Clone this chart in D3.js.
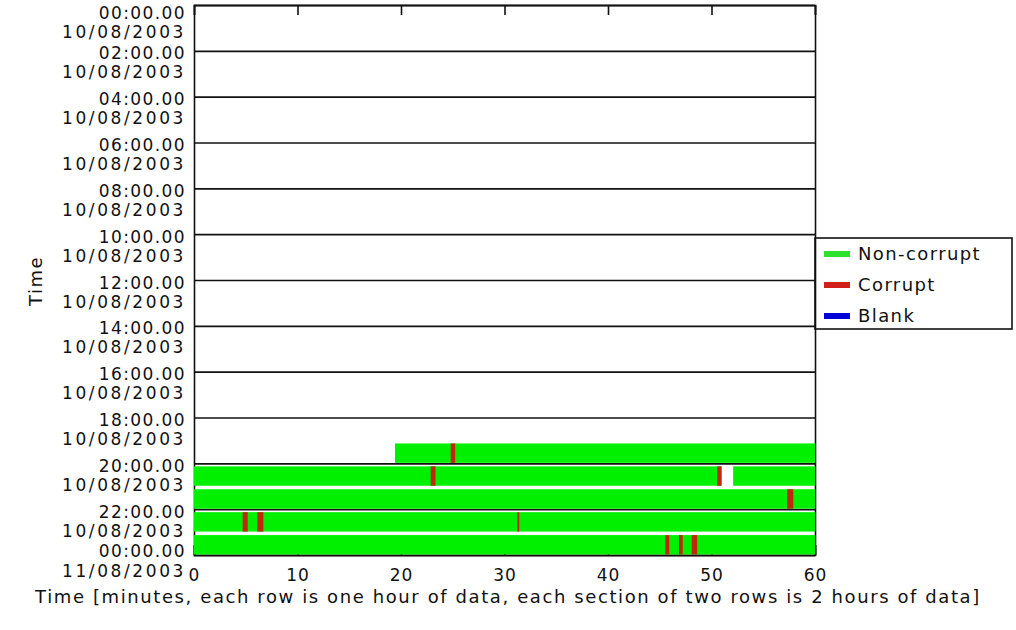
<!DOCTYPE html>
<html>
<head>
<meta charset="utf-8">
<script src="https://cdn.jsdelivr.net/npm/d3@7"></script>
<style>
  body { margin: 0; background: #fff; }
  svg { display: block; font-family: "DejaVu Sans", sans-serif; }
  .frame line, .frame path { stroke: #111; }
</style>
</head>
<body>
<svg id="chart" width="1016" height="630"></svg>
<script>
// rows are hours of the day (0 = 00:00 on 10/08/2003), spans are [hour, fromMinute, toMinute]
var okSpans = [
  [19, 19.42, 60],
  [20, 0, 50.97], [20, 52.09, 60],
  [21, 0, 60],
  [22, 0, 60],
  [23, 0, 60]
];
var corruptSpans = [
  [19, 24.8, 25.23],
  [20, 22.87, 23.33], [20, 50.56, 50.97],
  [21, 57.32, 57.9],
  [22, 4.7, 5.19], [22, 6.12, 6.7], [22, 31.24, 31.43],
  [23, 45.54, 45.92], [23, 46.86, 47.22], [23, 48.09, 48.61]
];
var blankSpans = [];

var sectionHours = [0, 2, 4, 6, 8, 10, 12, 14, 16, 18, 20, 22, 24];
var timeLabels = ['00:00.00', '02:00.00', '04:00.00', '06:00.00', '08:00.00', '10:00.00',
  '12:00.00', '14:00.00', '16:00.00', '18:00.00', '20:00.00', '22:00.00', '00:00.00'];
var dateLabels = ['10/08/2003', '10/08/2003', '10/08/2003', '10/08/2003', '10/08/2003', '10/08/2003',
  '10/08/2003', '10/08/2003', '10/08/2003', '10/08/2003', '10/08/2003', '10/08/2003', '11/08/2003'];
var minuteTicks = [0, 10, 20, 30, 40, 50, 60];

var legendItems = ['Non-corrupt', 'Corrupt', 'Blank'];
var legendColors = ['#2fe02f', '#d0201a', '#0000d8'];

var margin = { left: 194, top: 5, right: 201, bottom: 75 },
    width = 1016 - margin.left - margin.right,
    height = 630 - margin.top - margin.bottom;

var svg = d3.select('#chart');
var g = svg.append('g')
  .attr('transform', 'translate(' + margin.left + ',' + margin.top + ')');

var x = d3.scaleLinear()
  .domain([0, 60])
  .range([0, width]);
var y = d3.scaleLinear()
  .domain([0, 24])
  .range([0, height]);

// frame, section lines and ticks
var frame = g.append('g').attr('class', 'frame');

frame.append('g')
  .call(d3.axisLeft(y).tickValues(sectionHours).tickSize(-width).tickFormat(''))
  .call(function(a) {
    a.selectAll('line').attr('stroke-width', 1.6);
    a.select('.domain').attr('stroke-width', 1.6);
  });

frame.append('g')
  .call(d3.axisTop(x).tickValues(minuteTicks).tickSize(-10).tickFormat(''))
  .call(function(a) {
    a.selectAll('line').attr('stroke-width', 1.6);
    a.select('.domain').attr('stroke-width', 1.6);
  });

frame.append('g')
  .attr('transform', 'translate(' + width + ',0)')
  .call(d3.axisRight(y).tickValues([]).tickSize(0))
  .select('.domain').attr('stroke-width', 1.6);

var bottomAxis = frame.append('g')
  .attr('transform', 'translate(0,' + height + ')')
  .call(d3.axisBottom(x).tickValues(minuteTicks).tickSize(-10).tickPadding(12));
bottomAxis.selectAll('line').attr('stroke-width', 1.6);
bottomAxis.select('.domain').attr('stroke-width', 1.6);
bottomAxis.selectAll('text')
  .attr('font-size', 17)
  .attr('font-family', '"DejaVu Sans", sans-serif')
  .attr('fill', '#111')
  .attr('letter-spacing', 1)
  .attr('dy', '0.85em');

// bars
function drawSpans(spans, color) {
  g.append('g').selectAll('rect')
    .data(spans)
    .enter()
    .append('rect')
      .attr('x', function(d) { return x(d[1]); })
      .attr('width', function(d) { return x(d[2]) - x(d[1]); })
      .attr('y', function(d) { return y(d[0]) + 3; })
      .attr('height', function(d) { return y(d[0] + 1) - y(d[0]) - 3.5; })
      .attr('fill', color);
}
drawSpans(okSpans, '#00f000');
drawSpans(corruptSpans, '#c0280c');
drawSpans(blankSpans, '#0000d8');

// two-line labels on the left
var labels = g.append('g')
  .attr('font-size', 17)
  .attr('fill', '#111')
  .attr('text-anchor', 'end');

var last = sectionHours.length - 1;

labels.selectAll('text')
  .data(sectionHours)
  .enter()
  .append('text')
    .attr('transform', function(d, i) {
      // first and last labels are pushed inside like the original plot
      var shift = i == 0 ? 5 : (i == last ? -6.5 : 0);
      return 'translate(-8,' + (y(d) + shift) + ')';
    })
    .each(function(d, i) {
      var t = d3.select(this);
      t.append('tspan')
        .attr('x', 0)
        .attr('y', 8.5)
        .attr('letter-spacing', 1.4)
        .text(timeLabels[i]);
      t.append('tspan')
        .attr('x', 0)
        .attr('y', i == last ? 28.5 : 27.5)
        .attr('letter-spacing', 2.6)
        .text(dateLabels[i]);
    });

// axis titles
svg.append('text')
  .attr('transform', 'translate(42,281) rotate(-90)')
  .attr('text-anchor', 'middle')
  .attr('font-size', 18)
  .attr('letter-spacing', 1.5)
  .attr('fill', '#111')
  .text('Time');

svg.append('text')
  .attr('x', 508)
  .attr('y', 603)
  .attr('text-anchor', 'middle')
  .attr('font-size', 18)
  .attr('letter-spacing', 1.6)
  .attr('fill', '#111')
  .text('Time [minutes, each row is one hour of data, each section of two rows is 2 hours of data]');

// legend
var legend = svg.append('g')
  .attr('transform', 'translate(' + (margin.left + width) + ',238)');

legend.append('rect')
  .attr('width', 197)
  .attr('height', 91)
  .attr('fill', 'none')
  .attr('stroke', '#111')
  .attr('stroke-width', 1.6);

var entries = legend.selectAll('.entry')
  .data(legendItems)
  .enter()
  .append('g')
    .attr('class', 'entry')
    .attr('transform', function(d, i) { return 'translate(0,' + (16 + i * 31) + ')'; });

entries.append('rect')
  .attr('x', 9)
  .attr('y', -3)
  .attr('width', 26)
  .attr('height', 6)
  .attr('fill', function(d, i) { return legendColors[i]; });

entries.append('text')
  .attr('x', 43)
  .attr('dy', '0.36em')
  .attr('font-size', 18)
  .attr('letter-spacing', 1.4)
  .attr('fill', '#111')
  .text(function(d) { return d; });
</script>
</body>
</html>
